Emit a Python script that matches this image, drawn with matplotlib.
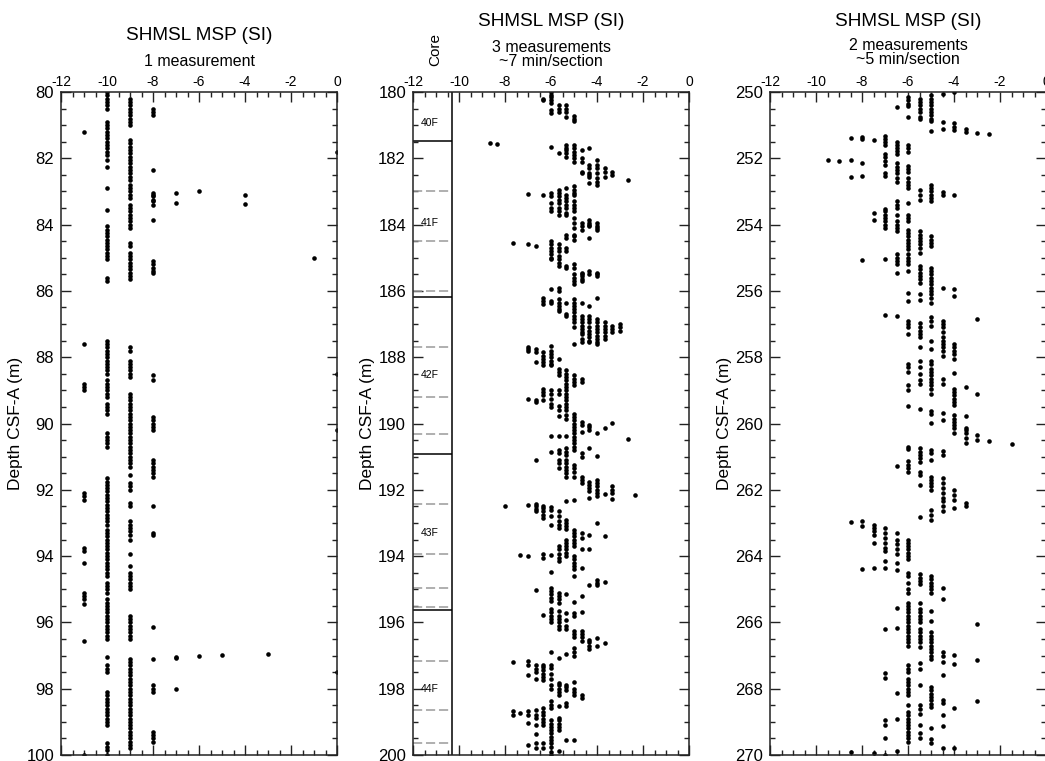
import matplotlib
matplotlib.use("Agg")
import matplotlib.pyplot as plt
from matplotlib.ticker import MultipleLocator

plt.rcParams['font.family'] = ['Liberation Sans', 'DejaVu Sans']
plt.rcParams['axes.unicode_minus'] = False

# MSP value (SI) -> depths (m CSF-A)

# left panel, 1 measurement
left_cols = {
    -11: [81.2, 87.6, 88.8, 88.9, 89.0, 92.1, 92.2, 92.3, 93.75, 93.85, 94.2,
          95.1, 95.2, 95.3, 95.45, 96.55, 100.0],
    -10: [80.0, 80.1, 80.2, 80.3, 80.4, 80.5, 80.9, 81.0, 81.1, 81.2, 81.3,
          81.4, 81.5, 81.6, 81.7, 81.8, 81.9, 82.05, 82.25, 82.9, 83.55,
          84.05, 84.15, 84.25, 84.35, 84.45, 84.55, 84.65, 84.75, 84.85,
          84.95, 85.05, 85.6, 85.7, 87.5, 87.6, 87.7, 87.8, 87.9, 88.0, 88.1,
          88.2, 88.3, 88.4, 88.5, 88.7, 88.8, 88.9, 89.0, 89.1, 89.2, 89.4,
          89.5, 89.6, 89.7, 90.3, 90.4, 90.5, 90.6, 90.7, 91.65, 91.75,
          91.85, 91.95, 92.05, 92.15, 92.25, 92.35, 92.45, 92.55, 92.65,
          92.75, 92.85, 92.95, 93.05, 93.2, 93.3, 93.4, 93.5, 93.6, 93.7,
          93.8, 93.9, 94.0, 94.1, 94.2, 94.3, 94.4, 94.5, 94.6, 94.8, 94.9,
          95.0, 95.1, 95.3, 95.4, 95.5, 95.6, 95.7, 95.8, 95.9, 96.0, 96.1,
          96.2, 96.3, 96.4, 96.5, 97.05, 97.3, 97.4, 97.5, 98.1, 98.2, 98.3,
          98.4, 98.5, 98.6, 98.7, 98.8, 98.9, 99.0, 99.1, 99.65, 99.75,
          99.85, 100.0],
    -9: [80.2, 80.3, 80.4, 80.5, 80.6, 80.7, 80.8, 80.9, 81.0, 81.45, 81.55,
         81.65, 81.75, 81.85, 81.95, 82.05, 82.15, 82.25, 82.35, 82.45,
         82.55, 82.65, 82.8, 82.9, 83.0, 83.1, 83.2, 83.4, 83.5, 83.6, 83.7,
         83.8, 83.9, 84.0, 84.1, 84.55, 84.65, 84.85, 84.95, 85.05, 85.15,
         85.25, 85.35, 85.45, 85.55, 85.65, 87.7, 87.8, 88.1, 88.2, 88.3,
         88.4, 88.5, 88.6, 89.1, 89.2, 89.3, 89.4, 89.5, 89.6, 89.7, 89.8,
         89.9, 90.0, 90.1, 90.2, 90.3, 90.4, 90.5, 90.6, 90.7, 90.8, 90.9,
         91.0, 91.1, 91.2, 91.3, 91.55, 91.8, 91.9, 92.0, 92.4, 92.5, 92.95,
         93.05, 93.15, 93.25, 93.35, 93.5, 93.95, 94.3, 94.5, 94.6, 94.7,
         94.8, 94.9, 95.0, 95.8, 95.9, 96.0, 96.1, 96.2, 96.3, 96.4, 96.5,
         97.1, 97.2, 97.3, 97.4, 97.5, 97.6, 97.7, 97.8, 97.9, 98.0, 98.1,
         98.2, 98.3, 98.4, 98.5, 98.6, 98.7, 98.8, 98.9, 99.0, 99.1, 99.2,
         99.3, 99.4, 99.5, 99.6, 99.7, 99.8],
    -8: [80.5, 80.6, 80.7, 82.35, 83.05, 83.1, 83.15, 83.25, 83.3, 83.4,
         83.85, 85.1, 85.2, 85.3, 85.4, 85.45, 88.55, 88.7, 89.8, 89.9, 90.0,
         90.1, 90.2, 91.1, 91.2, 91.3, 91.4, 91.5, 91.6, 92.5, 93.3, 93.37,
         96.15, 97.1, 97.9, 98.0, 98.1, 99.3, 99.4, 99.5, 99.6],
    -7: [83.05, 83.35, 97.03, 97.08, 98.0],
    -6: [83.0, 97.0],
    -5: [96.97],
    -4: [83.1, 83.38],
    -3: [96.94],
    -1: [85.0],
    0: [81.8, 88.5, 90.2, 97.5],
}

# middle panel, 3 measurements (~7 min/section)
mid_cols = {
    -8.67: [181.55],
    -8.33: [181.57],
    -8.0: [192.5],
    -7.67: [184.55, 197.2, 198.68, 198.78],
    -7.33: [193.98, 198.73],
    -7.0: [183.08, 184.58, 187.7, 187.75, 187.8, 189.27, 192.47, 194.0,
           197.17, 197.27, 197.6, 198.68, 198.78, 199.03, 199.69],
    -6.67: [184.65, 187.75, 187.85, 188.15, 189.3, 189.36, 191.09, 192.42,
            192.5, 192.58, 192.65, 195.01, 197.27, 197.4, 197.5, 197.7,
            198.63, 198.78, 198.88, 199.08, 199.38, 199.64, 199.78],
    -6.33: [180.2, 180.25, 183.1, 186.2, 186.3, 186.4, 187.85, 187.95,
            188.05, 188.15, 188.25, 188.95, 189.05, 189.15, 189.28, 192.48,
            192.55, 192.65, 192.75, 192.85, 193.95, 194.05, 195.77, 197.27,
            197.35, 197.45, 197.55, 197.65, 197.75, 198.58, 198.7, 198.8,
            198.9, 199.0, 199.1, 199.64, 199.79],
    -6.0: [180.0, 180.08, 180.16, 180.24, 180.32, 180.55, 180.62, 181.67,
           183.05, 183.15, 183.35, 183.5, 183.6, 184.5, 184.6, 184.7, 184.8,
           184.9, 185.0, 185.05, 185.95, 186.3, 186.35, 187.65, 187.8, 187.9,
           188.0, 188.1, 188.2, 188.25, 189.0, 189.1, 189.25, 189.4, 189.5,
           190.39, 190.87, 192.52, 192.6, 192.8, 193.05, 193.96, 194.49,
           194.97, 195.05, 195.15, 195.25, 195.35, 195.6, 195.7, 195.8, 195.9,
           196.0, 196.89, 197.27, 197.38, 197.55, 197.7, 197.9, 198.0, 198.38,
           198.48, 198.58, 198.93, 199.05, 199.15, 199.25, 199.35, 199.45,
           199.55, 199.65, 199.75, 199.9, 199.99],
    -5.67: [180.4, 180.5, 180.6, 181.85, 182.95, 183.05, 183.15, 183.25,
            183.35, 183.5, 183.6, 183.7, 184.6, 184.7, 184.8, 184.95, 185.05,
            185.15, 185.25, 185.9, 186.0, 186.25, 186.35, 186.45, 186.55,
            186.6, 188.05, 188.35, 188.45, 188.55, 189.0, 189.1, 189.48,
            189.58, 189.78, 190.39, 190.8, 190.9, 191.1, 191.2, 191.35,
            192.65, 192.8, 192.95, 193.05, 193.15, 193.7, 193.8, 193.95,
            194.05, 194.15, 195.1, 195.2, 195.3, 195.42, 195.67, 195.8, 195.9,
            196.0, 196.1, 196.2, 197.07, 197.83, 197.9, 198.0, 198.1, 198.2,
            198.53, 198.88, 198.95, 199.05, 199.15, 199.25, 199.89],
    -5.33: [180.4, 180.5, 180.6, 180.75, 181.6, 181.68, 181.76, 181.85,
            181.95, 182.9, 183.1, 183.2, 183.3, 183.4, 183.5, 183.65, 183.7,
            184.3, 184.4, 184.7, 184.8, 185.25, 185.3, 186.35, 186.7, 186.75,
            188.4, 188.5, 188.6, 188.7, 188.8, 188.9, 189.0, 189.1, 189.2,
            189.3, 189.4, 189.5, 189.6, 189.75, 189.85, 190.39, 190.75,
            190.85, 190.95, 191.1, 191.2, 191.3, 191.4, 191.5, 191.62, 192.35,
            192.92, 193.0, 193.1, 193.17, 193.5, 193.6, 193.7, 193.8, 193.9,
            194.0, 195.14, 195.72, 195.93, 196.12, 196.2, 196.94, 197.88,
            197.95, 198.05, 198.43, 198.53, 199.54],
    -5.0: [180.73, 180.8, 180.87, 181.6, 181.7, 181.8, 181.9, 182.0, 182.1,
           182.85, 182.95, 183.05, 183.1, 183.3, 183.4, 183.5, 183.6, 183.8,
           183.95, 184.1, 184.3, 184.35, 184.45, 185.2, 185.3, 185.5, 185.6,
           185.7, 185.8, 186.25, 186.35, 186.45, 186.55, 186.65, 186.75,
           186.85, 186.95, 187.1, 187.6, 188.55, 188.65, 188.75, 188.85,
           189.7, 189.8, 189.9, 190.0, 190.1, 190.2, 190.3, 190.4, 190.5,
           190.6, 190.7, 190.8, 191.25, 191.35, 191.45, 191.6, 192.3, 193.2,
           193.3, 193.4, 193.5, 193.6, 193.7, 194.0, 194.1, 194.2, 194.3,
           194.4, 194.6, 195.39, 195.72, 195.82, 196.26, 196.35, 196.45,
           196.77, 196.9, 197.0, 197.81, 198.0, 198.1, 198.2, 199.54],
    -4.67: [181.75, 182.0, 182.1, 182.4, 182.45, 183.95, 184.05, 184.15,
            185.45, 185.5, 185.55, 185.65, 185.7, 186.35, 186.75, 186.85,
            186.95, 187.05, 187.15, 187.25, 187.3, 187.45, 187.55, 188.65,
            188.75, 189.95, 190.05, 190.25, 190.9, 191.0, 191.6, 191.7, 191.8,
            193.3, 193.45, 193.8, 194.36, 195.19, 195.7, 196.26, 196.35,
            196.45, 196.55, 198.2, 198.28],
    -4.33: [181.7, 182.2, 182.3, 182.45, 182.5, 182.55, 182.75, 183.85,
            183.95, 184.0, 184.05, 184.4, 185.4, 185.5, 186.45, 186.75,
            186.85, 186.95, 187.1, 187.2, 187.3, 187.4, 187.5, 187.55, 190.05,
            190.12, 190.2, 190.74, 191.75, 191.85, 191.95, 192.05, 192.25,
            193.35, 193.78, 194.86, 196.53, 196.6, 196.7, 196.8],
    -4.0: [182.05, 182.2, 182.3, 182.45, 182.6, 182.7, 182.8, 183.95, 184.05,
           184.1, 184.15, 185.45, 185.5, 185.55, 186.2, 186.85, 186.95,
           187.05, 187.15, 187.25, 187.35, 187.45, 187.55, 187.6, 190.28,
           190.97, 191.7, 191.8, 191.9, 192.0, 192.1, 192.2, 193.0, 194.72,
           194.8, 194.86, 196.47, 196.72],
    -3.67: [182.3, 182.4, 182.55, 186.95, 187.05, 187.15, 187.25, 187.35,
            187.45, 190.13, 192.12, 193.4, 194.79, 196.62],
    -3.33: [182.4, 182.5, 187.05, 187.15, 187.25, 189.98, 191.9, 192.0,
            192.1, 192.28],
    -3.0: [187.0, 187.1, 187.2],
    -2.67: [182.65, 190.46],
    -2.33: [192.17],
}

# right panel, 2 measurements (~5 min/section)
right_cols = {
    -9.5: [252.06],
    -9.0: [252.09],
    -8.5: [251.39, 252.06, 252.57, 262.98, 269.92],
    -8.0: [251.37, 251.42, 252.14, 252.53, 255.07, 262.95, 263.1, 264.38],
    -7.5: [251.46, 253.65, 253.85, 263.05, 263.15, 263.25, 263.35, 263.6,
           264.36, 269.94],
    -7.0: [251.32, 251.42, 251.52, 251.6, 251.86, 251.95, 252.08, 252.2,
           252.44, 252.52, 253.53, 253.6, 253.7, 253.8, 253.9, 254.0, 254.1,
           255.05, 256.74, 263.15, 263.3, 263.45, 263.6, 263.75, 263.85,
           264.15, 264.35, 266.2, 267.52, 267.67, 268.93, 269.08, 269.48,
           269.99],
    -6.5: [250.45, 251.5, 251.6, 251.7, 251.78, 251.87, 252.14, 252.25,
           252.35, 252.44, 252.6, 252.72, 253.3, 253.4, 253.5, 253.7, 253.9,
           254.0, 254.1, 254.2, 254.9, 255.0, 255.1, 255.2, 255.45, 256.77,
           261.29, 263.3, 263.5, 263.65, 263.8, 263.95, 264.2, 264.43, 265.57,
           266.17, 268.13, 268.9, 269.89],
    -6.0: [250.15, 250.25, 250.35, 250.43, 250.75, 251.6, 251.7, 251.82,
           252.22, 252.32, 252.4, 252.6, 252.7, 252.8, 252.9, 253.35, 253.7,
           253.8, 253.9, 254.15, 254.25, 254.35, 254.45, 254.55, 254.65,
           254.75, 254.9, 255.0, 255.1, 255.2, 255.4, 256.05, 256.3, 256.9,
           257.0, 257.1, 257.3, 258.2, 258.3, 258.45, 258.85, 259.0, 259.48,
           260.7, 260.76, 261.14, 261.25, 261.35, 261.45, 263.5, 263.6, 263.7,
           263.8, 263.9, 264.0, 264.1, 264.5, 264.6, 264.8, 265.0, 265.1,
           265.4, 265.5, 265.6, 265.7, 265.8, 265.9, 266.0, 266.1, 266.2,
           266.3, 266.4, 266.5, 266.6, 266.7, 267.3, 267.4, 267.5, 267.7,
           267.8, 267.9, 268.0, 268.1, 268.2, 268.5, 268.7, 268.8, 268.9,
           269.0, 269.1, 269.2, 269.3, 269.4, 269.5, 269.6],
    -5.5: [250.2, 250.3, 250.4, 250.5, 250.6, 250.75, 250.8, 252.95, 253.1,
           253.25, 254.2, 254.3, 254.4, 254.5, 254.6, 254.7, 254.85, 255.25,
           255.35, 255.45, 255.55, 255.65, 255.75, 256.1, 256.28, 256.97,
           257.1, 257.2, 257.3, 257.4, 257.7, 258.1, 258.3, 258.5, 258.7,
           258.8, 259.56, 260.74, 260.85, 260.95, 261.05, 261.15, 261.45,
           261.55, 261.87, 262.82, 264.55, 264.65, 264.75, 264.85, 265.4,
           265.6, 265.7, 265.8, 265.9, 266.0, 266.2, 266.3, 266.4, 266.5,
           266.6, 266.75, 267.22, 267.4, 267.9, 268.5, 268.6, 268.75, 269.08,
           269.34, 269.5],
    -5.0: [250.1, 250.2, 250.3, 250.4, 250.5, 250.6, 250.7, 250.8, 250.87,
           251.19, 252.8, 252.9, 253.0, 253.1, 253.2, 253.3, 254.35, 254.45,
           254.55, 254.65, 255.3, 255.4, 255.5, 255.6, 255.7, 255.8, 255.9,
           256.0, 256.1, 256.2, 256.35, 256.8, 256.9, 257.05, 257.5, 257.75,
           258.1, 258.2, 258.35, 258.45, 258.55, 258.65, 258.75, 258.85,
           258.95, 259.1, 259.63, 259.7, 259.98, 260.79, 260.9, 261.1, 261.6,
           261.7, 261.8, 261.9, 262.0, 262.6, 262.75, 262.9, 264.6, 264.7,
           264.8, 264.9, 265.0, 265.1, 265.66, 265.95, 266.3, 266.4, 266.5,
           266.6, 266.7, 266.8, 266.9, 267.0, 267.1, 267.95, 268.05, 268.15,
           268.25, 268.35, 268.45, 268.55, 269.18, 269.53, 269.65],
    -4.5: [250.05, 250.9, 251.12, 253.02, 253.12, 255.9, 256.9, 257.0, 257.1,
           257.25, 257.4, 257.5, 257.6, 257.7, 257.8, 257.95, 258.65, 258.8,
           259.68, 259.88, 260.84, 260.95, 261.65, 261.8, 261.95, 262.1,
           262.25, 262.35, 262.5, 262.65, 264.96, 265.3, 266.88, 267.0, 267.2,
           267.58, 268.33, 268.43, 268.78, 269.14, 269.79],
    -4.0: [250.0, 250.95, 251.05, 251.15, 253.1, 255.95, 256.15, 257.6,
           257.7, 257.8, 257.9, 258.05, 258.48, 258.95, 259.05, 259.15,
           259.25, 259.35, 259.45, 259.73, 259.85, 259.95, 260.05, 260.15,
           260.3, 262.0, 262.15, 262.3, 262.55, 266.97, 267.25, 268.58,
           269.79],
    -3.5: [251.12, 251.2, 258.9, 259.78, 260.13, 260.2, 260.3, 260.45,
           260.58, 262.4, 262.48],
    -3.0: [251.24, 256.85, 259.1, 260.34, 260.5, 266.04, 267.12, 268.36],
    -2.5: [251.27, 260.54],
    -1.5: [260.62],
}

# core / section boundaries in the middle panel
core_bounds = [181.49, 186.18, 190.91, 195.62]
section_bounds = [183.0, 184.5, 186.0, 187.7, 189.2, 190.33, 192.43, 193.94,
                  194.96, 195.54, 197.15, 198.63, 199.64]
core_names = ['40F', '41F', '42F', '43F', '44F']
core_name_depths = [180.95, 183.95, 188.55, 193.3, 198.0]
core_edge = -10.3

W, H = 1045, 761
fig = plt.figure(figsize=(W / 100, H / 100), dpi=100)


def add_px_axes(left, top, right, bottom):
    return fig.add_axes([left / W, 1 - bottom / H,
                         (right - left) / W, (bottom - top) / H])


def style(ax, top_depth):
    ax.set_xlim(-12, 0)
    ax.set_ylim(top_depth + 20, top_depth)
    ax.xaxis.set_major_locator(MultipleLocator(2))
    ax.xaxis.set_minor_locator(MultipleLocator(0.5))
    ax.yaxis.set_major_locator(MultipleLocator(2))
    ax.yaxis.set_minor_locator(MultipleLocator(0.5))
    ax.tick_params(which='both', direction='in', top=True, right=True,
                   bottom=True, labeltop=True, labelbottom=False,
                   width=1.0, color='#222222')
    ax.tick_params(which='major', length=7.5)
    ax.tick_params(which='minor', length=3.8)
    ax.tick_params(axis='x', labelsize=10, pad=2)
    ax.tick_params(axis='y', labelsize=12, pad=5)
    for s in ax.spines.values():
        s.set_linewidth(1.1)
        s.set_color('#222222')
    ax.set_ylabel("Depth CSF-A (m)", fontsize=12.5)
    ax.yaxis.set_label_coords(-0.138, 0.5)


def draw_cols(ax, cols):
    for x, depths in cols.items():
        ax.plot([x] * len(depths), depths, 'o', ms=3.3, color='k', mew=0)


ax1 = add_px_axes(61, 92, 337, 755)
ax2 = add_px_axes(413, 92, 689, 755)
ax3 = add_px_axes(770, 92, 1046, 755)

style(ax1, 80)
style(ax2, 180)
style(ax3, 250)

draw_cols(ax1, left_cols)
draw_cols(ax2, mid_cols)
draw_cols(ax3, right_cols)

# core column
ax2.axvline(core_edge, color='k', lw=1.1)
ax2.hlines(core_bounds, -12, core_edge, color='k', lw=1.1)
ax2.hlines(section_bounds, -12, core_edge, color='#9a9a9a', lw=1.1,
           linestyles=(0, (6, 2.5)))
for name, d in zip(core_names, core_name_depths):
    ax2.text(-11.68, d, name, fontsize=7.5, ha='left', va='center')

# headers
def header(xc, lines):
    for txt, y, size in lines:
        fig.text(xc / W, 1 - y / H, txt, ha='center', va='center',
                 fontsize=size)

header(199, [("SHMSL MSP (SI)", 36, 13.7), ("1 measurement", 62, 11.5)])
header(551, [("SHMSL MSP (SI)", 22, 13.7), ("3 measurements", 47, 11.5),
             ("~7 min/section", 61, 11.5)])
header(908, [("SHMSL MSP (SI)", 22, 13.7), ("2 measurements", 45, 11.5),
             ("~5 min/section", 60, 11.5)])
fig.text(435 / W, 1 - 49 / H, "Core", rotation=90, ha='center',
         va='center', fontsize=11)

fig.savefig("out.png", dpi=100)
